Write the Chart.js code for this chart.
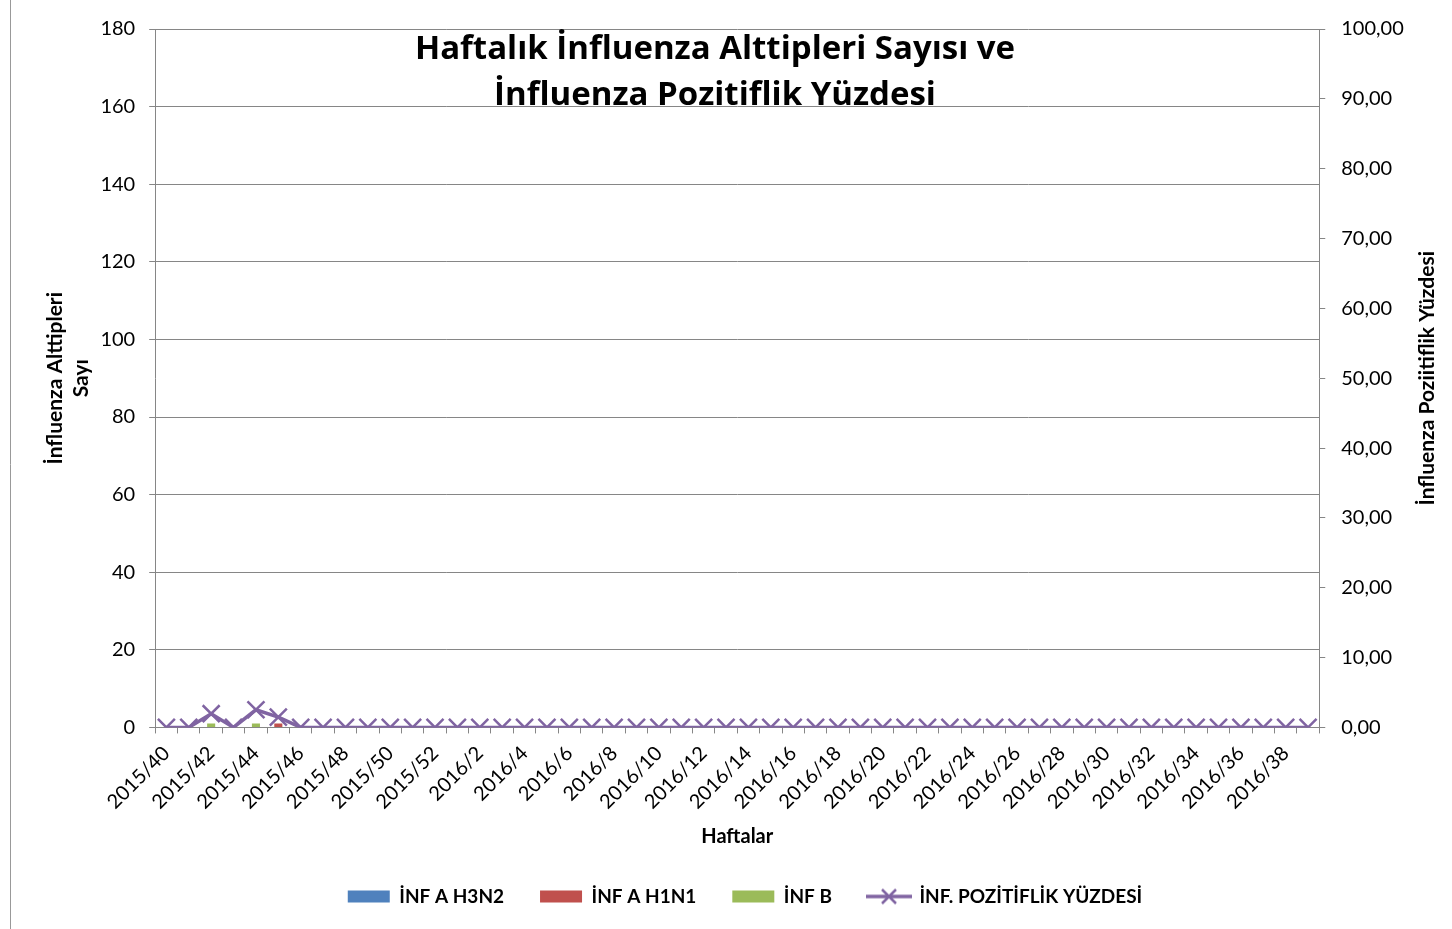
<!DOCTYPE html>
<html>
<head>
<meta charset="utf-8">
<script src="https://cdn.jsdelivr.net/npm/chart.js@4.4.1/dist/chart.umd.min.js"></script>
<style>
  html, body { margin: 0; padding: 0; background: #fff; }
  #wrap { width: 1452px; height: 929px; position: relative; }
</style>
</head>
<body>
<div id="wrap"><canvas id="grafik" width="1452" height="929"></canvas></div>
<script>
// --- veriler ---
const haftalar = [
    '2015/40','2015/41','2015/42','2015/43','2015/44','2015/45','2015/46','2015/47','2015/48','2015/49',
    '2015/50','2015/51','2015/52',
    '2016/1','2016/2','2016/3','2016/4','2016/5','2016/6','2016/7','2016/8','2016/9','2016/10',
    '2016/11','2016/12','2016/13','2016/14','2016/15','2016/16','2016/17','2016/18','2016/19','2016/20',
    '2016/21','2016/22','2016/23','2016/24','2016/25','2016/26','2016/27','2016/28','2016/29','2016/30',
    '2016/31','2016/32','2016/33','2016/34','2016/35','2016/36','2016/37','2016/38','2016/39'
];
const h3n2 = [0,0,0,0,0,0,0,0,0,0,0,0,0, 0,0,0,0,0,0,0,0,0,0,0,0,0,0,0,0,0,0,0,0,0,0,0,0,0,0,0,0,0,0,0,0,0,0,0,0,0,0,0];
const h1n1 = [0,0,0,0,0,1,0,0,0,0,0,0,0, 0,0,0,0,0,0,0,0,0,0,0,0,0,0,0,0,0,0,0,0,0,0,0,0,0,0,0,0,0,0,0,0,0,0,0,0,0,0,0];
const infB = [0,0,1,0,1,0,0,0,0,0,0,0,0, 0,0,0,0,0,0,0,0,0,0,0,0,0,0,0,0,0,0,0,0,0,0,0,0,0,0,0,0,0,0,0,0,0,0,0,0,0,0,0];
const pozitiflik = [0,0,1.96,0,2.53,1.47,0,0,0,0,0,0,0, 0,0,0,0,0,0,0,0,0,0,0,0,0,0,0,0,0,0,0,0,0,0,0,0,0,0,0,0,0,0,0,0,0,0,0,0,0,0,0];
const baslik = ['Haftalık İnfluenza Alttipleri Sayısı ve', 'İnfluenza Pozitiflik Yüzdesi'];
const sagEksenBaslik = 'İnfluenza Poziitiflik Yüzdesi';

const renkGrid = '#868686';
const mor = '#8064A2';
const fontAile = "Lato, 'Open Sans', sans-serif";

// legend icin cizgi + X isareti
const isaret = document.createElement('canvas');
isaret.width = 46; isaret.height = 18;
(function() {
    const c = isaret.getContext('2d');
    c.strokeStyle = mor;
    c.lineWidth = 3.5;
    c.beginPath(); c.moveTo(0, 9); c.lineTo(46, 9); c.stroke();
    c.lineWidth = 2.5;
    c.beginPath();
    c.moveTo(16, 2); c.lineTo(30, 16);
    c.moveTo(30, 2); c.lineTo(16, 16);
    c.stroke();
})();

const baslikPlugin = {
    id: 'baslikPlugin',
    afterDraw(chart) {
        const ctx = chart.ctx;
        const ca = chart.chartArea;
        ctx.save();
        ctx.font = "bold 33px 'Open Sans', Lato, sans-serif";
        ctx.fillStyle = '#000';
        ctx.textAlign = 'center';
        ctx.textBaseline = 'middle';
        ctx.fillText(baslik[0], 715, 50);
        ctx.fillText(baslik[1], 715, 96);
        // sag eksen basligi: asagidan yukari okunur
        ctx.font = 'bold 21px ' + fontAile;
        ctx.translate(chart.scales.y1.right - 20, (ca.top + ca.bottom) / 2);
        ctx.rotate(-Math.PI / 2);
        ctx.fillText(sagEksenBaslik, 0, 0);
        ctx.restore();
        // cerceve sol kenar
        ctx.save();
        ctx.strokeStyle = '#999';
        ctx.lineWidth = 1;
        ctx.beginPath(); ctx.moveTo(10.5, 0); ctx.lineTo(10.5, chart.height); ctx.stroke();
        ctx.restore();
    }
};

new Chart(document.getElementById('grafik'), {
    data: {
        labels: haftalar,
        datasets: [
            { type: 'line', label: 'İNF. POZİTİFLİK YÜZDESİ', data: pozitiflik, yAxisID: 'y1', order: 0,
              borderColor: mor, backgroundColor: mor, borderWidth: 3.5,
              pointStyle: 'crossRot', pointRadius: 12, pointBorderWidth: 2.5, pointBorderColor: mor },
            { type: 'bar', label: 'İNF A H3N2', data: h3n2, yAxisID: 'y', backgroundColor: '#4F81BD', pointStyle: 'rect', order: 1 },
            { type: 'bar', label: 'İNF A H1N1', data: h1n1, yAxisID: 'y', backgroundColor: '#C0504D', pointStyle: 'rect', order: 1 },
            { type: 'bar', label: 'İNF B', data: infB, yAxisID: 'y', backgroundColor: '#9BBB59', pointStyle: 'rect', order: 1 }
        ]
    },
    options: {
        responsive: false,
        animation: false,
        layout: { padding: { left: 43, right: 5, top: 29, bottom: 13 } },
        datasets: { bar: { barPercentage: 0.36, categoryPercentage: 1 } },
        scales: {
            x: {
                stacked: true,
                offset: true,
                grid: { offset: true, drawOnChartArea: false, tickLength: 6, color: renkGrid },
                border: { color: renkGrid },
                ticks: {
                    autoSkip: false, maxRotation: 45, minRotation: 45, color: '#000', padding: 8,
                    font: { family: fontAile, size: 20 },
                    callback: function(v, i) { return i % 2 === 0 ? haftalar[i] : ''; }
                },
                title: { display: true, text: 'Haftalar', color: '#000', font: { family: fontAile, size: 20, weight: 'bold' }, padding: { top: 3, bottom: 2 } }
            },
            y: {
                position: 'left', stacked: true, min: 0, max: 180,
                ticks: { stepSize: 20, color: '#000', font: { family: fontAile, size: 20 }, padding: 14 },
                grid: { color: renkGrid, tickLength: 6 },
                border: { color: renkGrid },
                title: { display: true, text: ['İnfluenza Alttipleri', 'Sayı'], color: '#000', font: { family: fontAile, size: 21, weight: 'bold' }, padding: { top: 0, bottom: -7 } }
            },
            y1: {
                position: 'right', min: 0, max: 100,
                ticks: { stepSize: 10, color: '#000', font: { family: fontAile, size: 20 }, padding: 16,
                         callback: function(v) { return v.toFixed(2).replace('.', ','); } },
                grid: { drawOnChartArea: false, color: renkGrid, tickLength: 6 },
                border: { color: renkGrid },
                // yer ayirmak icin; metni eklenti ciziyor
                title: { display: true, text: sagEksenBaslik, color: 'rgba(0,0,0,0)', font: { family: fontAile, size: 21, weight: 'bold' }, padding: { top: 2, bottom: 0 } }
            }
        },
        plugins: {
            legend: {
                position: 'bottom',
                labels: {
                    color: '#000', font: { family: fontAile, size: 19, weight: 'bold' },
                    usePointStyle: true, pointStyleWidth: 42, boxHeight: 12, padding: 36,
                    generateLabels: function(chart) {
                        const items = Chart.defaults.plugins.legend.labels.generateLabels(chart);
                        items.forEach(function(it) {
                            if (it.datasetIndex === 0) { it.pointStyle = isaret; }
                            else { it.pointStyle = 'rect'; it.lineWidth = 0; }
                        });
                        // line legendde sona
                        return items.slice(1).concat(items.slice(0, 1));
                    }
                }
            },
            tooltip: { enabled: false }
        }
    },
    plugins: [baslikPlugin]
});
</script>
</body>
</html>
